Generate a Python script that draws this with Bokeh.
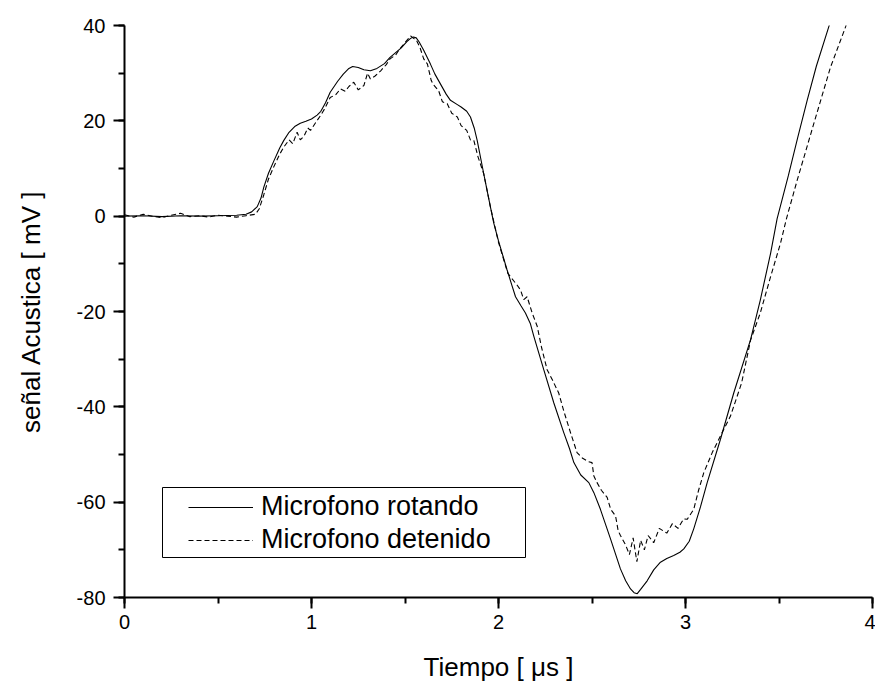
from bokeh.plotting import figure
from bokeh.models import (Range1d, SingleIntervalTicker, Legend, LegendItem,
                          BoxAnnotation, ColumnDataSource, PrintfTickFormatter)
from bokeh.embed import file_html
from bokeh.resources import INLINE

# ---- data ----
t_rotando = [0, 0.1, 0.2, 0.3, 0.4, 0.5, 0.6, 0.65, 0.68, 0.71, 0.73, 0.745, 0.77, 0.80,
             0.83, 0.852, 0.88, 0.91, 0.94, 0.97, 1.0, 1.03, 1.05, 1.075, 1.10, 1.14, 1.17,
             1.20, 1.22, 1.25, 1.28, 1.315, 1.35, 1.39, 1.42, 1.48, 1.51, 1.53, 1.545, 1.56,
             1.575, 1.60, 1.636, 1.66, 1.69, 1.72, 1.743, 1.78, 1.80, 1.83, 1.85, 1.87, 1.886,
             1.921, 1.94, 1.957, 1.975, 2.0, 2.046, 2.07, 2.091, 2.12, 2.144, 2.17, 2.189,
             2.242, 2.296, 2.349, 2.38, 2.403, 2.44, 2.483, 2.51, 2.545, 2.599, 2.652, 2.68,
             2.706, 2.725, 2.742, 2.76, 2.795, 2.83, 2.866, 2.90, 2.937, 2.97, 2.991, 3.02,
             3.044, 3.08, 3.116, 3.187, 3.258, 3.348, 3.40, 3.455, 3.49, 3.55, 3.60, 3.65,
             3.70, 3.766, 3.80]
v_rotando = [0, 0.1, -0.1, 0.1, 0, 0.1, 0.2, 0.4, 0.9, 2.0, 3.8, 6.1, 9.0, 11.7,
             14.3, 15.9, 17.6, 18.8, 19.5, 19.9, 20.4, 21.2, 22.0, 23.8, 26.0, 28.3, 29.8,
             31.0, 31.4, 31.2, 30.7, 30.5, 31.0, 32.0, 33.3, 35.3, 36.6, 37.3, 37.6, 37.4,
             36.6, 34.8, 31.9, 29.8, 27.7, 25.6, 24.3, 23.4, 22.9, 22.0, 20.8, 18.5, 15.9,
             8.9, 5.2, 1.9, -1.5, -5.2, -11.3, -14.3, -16.9, -18.8, -20.3, -22.5, -25.2,
             -32.2, -39.2, -45.4, -48.8, -51.7, -54.3, -55.9, -58.0, -61.5, -67.7, -74.0, -76.5,
             -78.2, -79.0, -79.2, -78.3, -76.5, -74.2, -72.6, -71.8, -71.2, -70.5, -69.8, -68.2,
             -65.6, -61.0, -55.9, -46.8, -37.1, -25.9, -17.6, -7.8, -0.5, 8.5, 16.5, 24.2,
             31.5, 39.7, 44.0]

t_detenido = [0, 0.05, 0.1, 0.15, 0.2, 0.25, 0.3, 0.35, 0.4, 0.45, 0.5, 0.55, 0.6, 0.65,
              0.7, 0.72, 0.745, 0.77, 0.80, 0.83, 0.852, 0.88, 0.90, 0.923, 0.94, 0.96, 0.98,
              0.995, 1.02, 1.048, 1.07, 1.10, 1.13, 1.155, 1.18, 1.20, 1.226, 1.25, 1.28, 1.30,
              1.315, 1.34, 1.37, 1.40, 1.42, 1.45, 1.47, 1.50, 1.53, 1.55, 1.56, 1.58, 1.60,
              1.62, 1.64, 1.65, 1.68, 1.70, 1.726, 1.75, 1.78, 1.80, 1.83, 1.85, 1.868, 1.89,
              1.921, 1.957, 2.0, 2.05, 2.08, 2.10, 2.118, 2.135, 2.153, 2.18, 2.207, 2.23, 2.26,
              2.29, 2.322, 2.35, 2.385, 2.42, 2.45, 2.48, 2.50, 2.51, 2.527, 2.55, 2.581, 2.60,
              2.626, 2.64, 2.652, 2.68, 2.70, 2.72, 2.74, 2.76, 2.78, 2.80, 2.83, 2.86, 2.90,
              2.93, 2.96, 2.99, 3.009, 3.044, 3.07, 3.098, 3.143, 3.196, 3.24, 3.30, 3.348,
              3.40, 3.455, 3.508, 3.54, 3.597, 3.686, 3.775, 3.856, 3.88]
v_detenido = [0.3, -0.2, 0.4, 0, -0.3, 0.2, 0.6, -0.1, 0.1, -0.2, 0.2, 0, -0.2, 0.1,
              0.4, 1.5, 4.5, 7.8, 10.5, 13.0, 14.5, 16.0, 15.2, 17.6, 16.0, 16.8, 18.5,
              18.0, 19.5, 21.1, 22.5, 24.9, 25.5, 26.7, 26.2, 27.2, 28.1, 26.5, 27.4, 30.0,
              28.8, 29.4, 30.5, 31.8, 33.0, 33.8, 35.0, 36.4, 37.8, 37.2, 37.0, 35.4, 33.0,
              31.9, 28.5, 27.7, 26.3, 24.0, 23.6, 21.6, 20.8, 19.0, 18.0, 16.0, 15.9, 12.5,
              8.9, 1.9, -5.5, -12.0, -13.5, -14.5, -15.5, -17.5, -16.9, -20.3, -23.1, -27.5, -32.2,
              -34.5, -37.1, -41.0, -45.4, -49.6, -50.8, -51.5, -51.7, -54.5, -55.9, -57.5, -59.0, -61.5,
              -62.9, -66.0, -67.0, -69.0, -71.0, -67.5, -72.5, -68.0, -70.0, -67.0, -68.5, -65.5, -66.5,
              -64.5, -65.5, -63.5, -63.6, -61.5, -57.5, -53.8, -49.6, -45.4, -42.0, -35.0, -26.0,
              -20.3, -12.7, -5.7, -0.5, 7.5, 19.4, 31.2, 39.7, 43.0]

series_names = ["Microfono rotando", "Microfono detenido"]
x_label = "Tiempo [ μs ]"
y_label = "señal Acustica [ mV ]"

FONT = "Liberation Sans"

p = figure(width=875, height=684, output_backend="svg", toolbar_location=None,
           x_range=Range1d(0, 4), y_range=Range1d(-80, 40),
           min_border_left=124, min_border_right=3, min_border_top=25, min_border_bottom=85)
p.outline_line_color = None
p.grid.visible = False
p.background_fill_color = "white"
p.border_fill_color = "white"

src_r = ColumnDataSource(dict(x=t_rotando, y=v_rotando))
src_d = ColumnDataSource(dict(x=t_detenido, y=v_detenido))
r1 = p.line("x", "y", source=src_r, line_color="black", line_width=1.1)
r2 = p.line("x", "y", source=src_d, line_color="black", line_width=1.1, line_dash="5 3")

p.xaxis.ticker = SingleIntervalTicker(interval=1, num_minor_ticks=2)
p.yaxis.ticker = SingleIntervalTicker(interval=20, num_minor_ticks=2)
p.xaxis.formatter = PrintfTickFormatter(format="%d")
p.yaxis.formatter = PrintfTickFormatter(format="%d")

for ax in (p.xaxis[0], p.yaxis[0]):
    ax.axis_line_width = 2
    ax.major_tick_line_width = 2
    ax.minor_tick_line_width = 2
    ax.major_tick_in = 0
    ax.minor_tick_in = 0
    ax.major_tick_out = 11
    ax.minor_tick_out = 6
    ax.major_label_text_font = FONT
    ax.major_label_text_font_size = "20px"
    ax.major_label_text_color = "black"
    ax.axis_label_text_font = FONT
    ax.axis_label_text_font_size = "26px"
    ax.axis_label_text_font_style = "normal"
    ax.axis_label_text_color = "black"
    ax.axis_line_color = "black"
    ax.major_tick_line_color = "black"
    ax.minor_tick_line_color = "black"

p.xaxis.axis_label = x_label
p.yaxis.axis_label = y_label
p.xaxis.major_label_standoff = 6
p.yaxis.major_label_standoff = 8
p.xaxis.axis_label_standoff = 20
p.yaxis.axis_label_standoff = 28

legend = Legend(items=[LegendItem(label=series_names[0], renderers=[r1]),
                       LegendItem(label=series_names[1], renderers=[r2])],
                location=(64, 42), padding=0, spacing=2, margin=0,
                glyph_width=65, glyph_height=30, label_height=30, label_standoff=8,
                label_text_font=FONT, label_text_font_size="27px",
                label_text_color="black",
                border_line_alpha=0, background_fill_alpha=0)
p.add_layout(legend, "center")

box = BoxAnnotation(left=38, right=401, bottom=40, top=110,
                    left_units="screen", right_units="screen",
                    bottom_units="screen", top_units="screen",
                    fill_alpha=0, line_color="black", line_alpha=1.0, line_width=1)
p.add_layout(box)

open("out.html", "w").write(file_html(p, INLINE))
